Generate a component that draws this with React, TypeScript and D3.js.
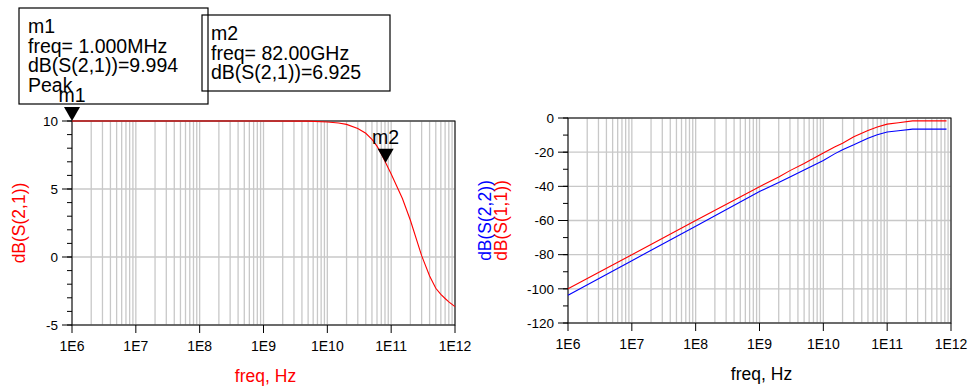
import * as d3 from "d3";

// S21 sweep (left plot)
const freqS21 = [1e6, 1e7, 1e8, 1e9, 5e9, 1e10, 1.5e10, 2e10, 3e10, 4e10, 5e10, 6e10, 7e10, 8.2e10, 1e11, 1.5e11, 2e11, 3e11, 4e11, 5e11, 6e11, 7e11, 8e11, 1e12];
const s21 = [10, 10, 10, 10, 9.99, 9.93, 9.85, 9.75, 9.45, 9.1, 8.65, 8.15, 7.6, 6.925, 6.1, 4.3, 2.7, 0.1, -1.4, -2.3, -2.75, -3.05, -3.3, -3.65];

// S11 / S22 sweep (right plot)
const freqRefl = [1e6, 1e7, 1e8, 1e9, 2e9, 3e9, 5e9, 1e10, 1.5e10, 2e10, 3e10, 5e10, 7e10, 1e11, 1.5e11, 2.5e11, 8.5e11];
const s11 = [-100, -80, -60, -40.2, -34.5, -30.8, -26.6, -20.5, -17, -14.8, -11, -7.3, -5.3, -3.6, -2.8, -1.7, -1.7];
const s22 = [-103.8, -83.5, -63.4, -43, -37.8, -34.5, -30.4, -24.9, -21, -18.6, -15.7, -11.8, -9.8, -8.2, -7.5, -6.5, -6.5];

const decades = [1e6, 1e7, 1e8, 1e9, 1e10, 1e11, 1e12];
const decadeLabels = ["1E6", "1E7", "1E8", "1E9", "1E10", "1E11", "1E12"];
const leftTicks = [10, 5, 0, -5];
const rightTicks = [0, -20, -40, -60, -80, -100, -120];

const markers = [
  { name: "m1", freq: 1e6, value: 9.994, lines: ["m1", "freq= 1.000MHz", "dB(S(2,1))=9.994", "Peak"] },
  { name: "m2", freq: 82e9, value: 6.925, lines: ["m2", "freq= 82.00GHz", "dB(S(2,1))=6.925"] },
];

const font = "'Liberation Sans', Arial, sans-serif";
const gridColor = "#c8c8c8";

function minorFreqs() {
  const out: number[] = [];
  for (let d = 0; d < decades.length - 1; d++)
    for (let k = 2; k <= 9; k++) out.push(decades[d] * k);
  return out;
}

function Plot({ x, y, yTicks, yMinor, series, yTitles, xTitleColor }: any) {
  const [x0, x1] = x.range();
  const [y0, y1] = y.range();
  const line = (xs: number[], ys: number[]) =>
    d3.line<number>().x((_, i) => x(xs[i])).y((d) => y(d))(ys) || "";
  const cx = (x0 + x1) / 2;
  const cy = (y0 + y1) / 2;
  return (
    <g>
      {minorFreqs().concat(decades).map((f, i) => (
        <line key={"v" + i} x1={x(f)} x2={x(f)} y1={y1} y2={y0} stroke={gridColor} strokeWidth={1.3} />
      ))}
      {yTicks.map((t: number) => (
        <line key={"h" + t} x1={x0} x2={x1} y1={y(t)} y2={y(t)} stroke={gridColor} strokeWidth={1.3} />
      ))}
      <rect x={x0} y={y1} width={x1 - x0} height={y0 - y1} fill="none" stroke="#000" strokeWidth={1} />
      {yMinor.map((t: number) => (
        <line key={"m" + t} x1={x0 - 5} x2={x0} y1={y(t)} y2={y(t)} stroke="#000" />
      ))}
      {yTicks.map((t: number) => (
        <g key={"t" + t}>
          <line x1={x0 - 10} x2={x0} y1={y(t)} y2={y(t)} stroke="#000" />
          <text x={x0 - 14} y={y(t) + 4.8} textAnchor="end" fontSize={13.5} fontFamily={font}>{t}</text>
        </g>
      ))}
      {decades.map((f, i) => (
        <g key={"x" + i}>
          <line x1={x(f)} x2={x(f)} y1={y0} y2={y0 + 8} stroke="#000" />
          <text x={x(f)} y={y0 + 25.5} textAnchor="middle" fontSize={14} fontFamily={font}>{decadeLabels[i]}</text>
        </g>
      ))}
      {series.map((s: any, i: number) => (
        <path key={"s" + i} d={line(s.xs, s.ys)} fill="none" stroke={s.color} strokeWidth={1.1} />
      ))}
      {yTitles.map((t: any, i: number) => (
        <text key={"yt" + i} transform={`translate(${t.x},${cy}) rotate(-90)`} textAnchor="middle" fontSize={17.5} fontFamily={font} fill={t.color}>{t.text}</text>
      ))}
      <text x={cx + 2} y={y0 + 57} textAnchor="middle" fontSize={17.5} fontFamily={font} fill={xTitleColor}>freq, Hz</text>
    </g>
  );
}

export default function App() {
  const xL = d3.scaleLog().domain([1e6, 1e12]).range([72, 455]);
  const yL = d3.scaleLinear().domain([-5, 10]).range([325, 121]);
  const xR = d3.scaleLog().domain([1e6, 1e12]).range([568, 951]);
  const yR = d3.scaleLinear().domain([-120, 0]).range([323, 118]);

  const leftMinor = d3.range(-5, 11, 1);
  const rightMinor = d3.range(-120, 1, 10);

  const boxes = [
    { x: 19, y: 8, w: 189, h: 96 },
    { x: 202, y: 15, w: 188, h: 76 },
  ];

  return (
    <svg width={969} height={389} style={{ position: "absolute", left: 0, top: 0, background: "#fff" }}>
      <Plot
        x={xL}
        y={yL}
        yTicks={leftTicks}
        yMinor={leftMinor}
        series={[{ xs: freqS21, ys: s21, color: "#ff0000" }]}
        yTitles={[{ x: 25, text: "dB(S(2,1))", color: "#ff0000" }]}
        xTitleColor="#ff0000"
      />
      <Plot
        x={xR}
        y={yR}
        yTicks={rightTicks}
        yMinor={rightMinor}
        series={[
          { xs: freqRefl, ys: s22, color: "#0000ff" },
          { xs: freqRefl, ys: s11, color: "#ff0000" },
        ]}
        yTitles={[
          { x: 491, text: "dB(S(2,2))", color: "#0000ff" },
          { x: 507, text: "dB(S(1,1))", color: "#ff0000" },
        ]}
        xTitleColor="#000"
      />
      {markers.map((m) => {
        const px = xL(m.freq);
        const py = yL(m.value);
        return (
          <g key={m.name}>
            <path d={`M${px - 8},${py - 14}L${px + 8},${py - 14}L${px},${py}Z`} fill="#000" />
            <text x={px} y={py - 19} textAnchor="middle" fontSize={19.5} fontFamily={font}>{m.name}</text>
          </g>
        );
      })}
      {markers.map((m, i) => (
        <g key={"b" + m.name}>
          <rect x={boxes[i].x} y={boxes[i].y} width={boxes[i].w} height={boxes[i].h} fill="none" stroke="#000" strokeWidth={1.2} />
          {m.lines.map((l, j) => (
            <text key={j} x={boxes[i].x + 9} y={boxes[i].y + 25 + j * 19.6} fontSize={19.5} fontFamily={font}>{l}</text>
          ))}
        </g>
      ))}
    </svg>
  );
}
